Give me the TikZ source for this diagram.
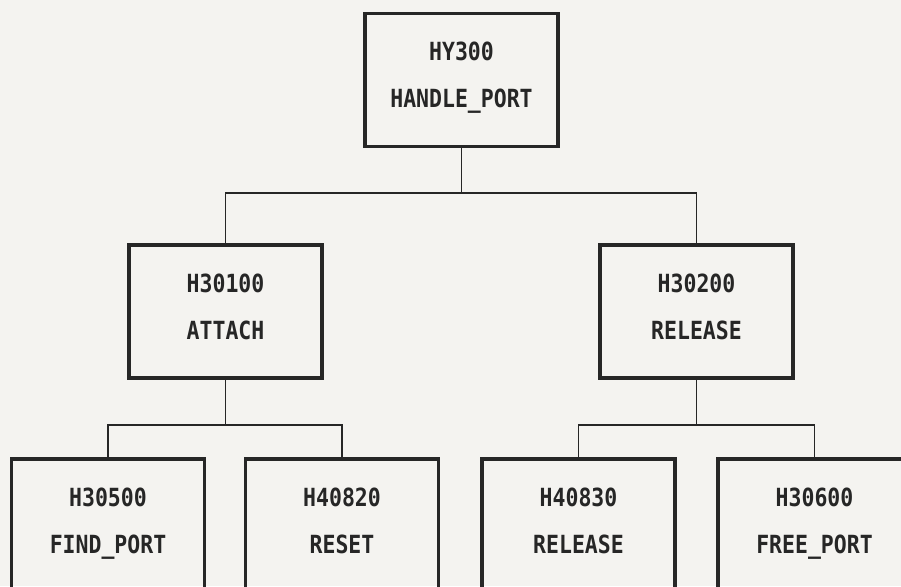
\documentclass[tikz,border=0pt]{standalone}
\usepackage{fontspec}
\usepackage{xcolor,tikz}
\usetikzlibrary{calc}
\newfontfamily\dotfont[FakeStretch=0.86]{DejaVu Sans Mono}
\definecolor{paper}{HTML}{F4F3F0}
\definecolor{ink}{HTML}{262626}
\newcommand{\hfont}{\dotfont\bfseries\fontsize{25}{47}\selectfont}
\newcommand{\lift}{\rule[-10pt]{0pt}{0pt}}
\tikzset{
  unit/.style={draw=ink,line width=3.8pt,minimum width=193pt,minimum height=133pt,
    align=center,text=ink,font=\hfont,inner sep=0pt},
  link/.style={draw=ink,line width=1.4pt}
}

\begin{document}
\begin{tikzpicture}[x=1pt,y=1pt]
\useasboundingbox (0,0) rectangle (901,586);
\clip (0,0) rectangle (901,586);
\fill[paper] (0,0) rectangle (901,586);
\node[unit] (port) at (461.5,506) {HY300\\HANDLE\_PORT\lift};
\node[unit] (attach) at (225.5,274.5) {H30100\\ATTACH\lift};
\node[unit] (release) at (696.5,274.5) {H30200\\RELEASE\lift};
\node[unit] (find) at (108,60.5) {H30500\\FIND\_PORT\lift};
\node[unit] (reset) at (342,60.5) {H40820\\RESET\lift};
\node[unit] (relport) at (578.5,60.5) {H40830\\RELEASE\lift};
\node[unit] (free) at (814.5,60.5) {H30600\\FREE\_PORT\lift};
\coordinate (jport) at (461.5,393);
\coordinate (jattach) at (225.5,161);
\coordinate (jrelease) at (696.5,161);
\draw[link] (port) -- (jport);
\draw[link] (attach) |- (jport) -| (release);
\draw[link] (attach) -- (jattach);
\draw[link] (find) |- (jattach) -| (reset);
\draw[link] (release) -- (jrelease);
\draw[link] (relport) |- (jrelease) -| (free);
\end{tikzpicture}
\end{document}
